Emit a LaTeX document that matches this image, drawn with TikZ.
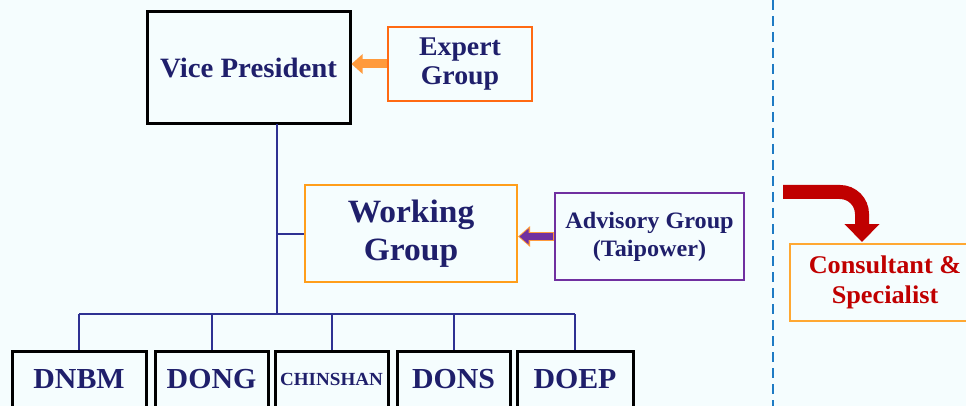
\documentclass[tikz,border=0pt]{standalone}
\usepackage{fontspec}
\setmainfont[FakeStretch=1.03]{Liberation Serif}
\usetikzlibrary{arrows.meta}
\definecolor{bgcyan}{HTML}{F5FDFE}
\definecolor{navytext}{HTML}{1F1F6B}
\definecolor{treeblue}{HTML}{2E3192}
\definecolor{expertorange}{HTML}{FF6A13}
\definecolor{workorange}{HTML}{FF9E1B}
\definecolor{arroworange}{HTML}{FF9A3C}
\definecolor{advpurple}{HTML}{7030A0}
\definecolor{darkred}{HTML}{C00000}
\definecolor{dashblue}{HTML}{1E7BC4}
\tikzset{
  orgbox/.style={draw,line width=2pt,inner sep=0pt,align=center,font=\bfseries,text=navytext},
  unitbox/.style={orgbox,draw=black,line width=3pt,minimum height=57,font=\bfseries\fontsize{29}{30}\selectfont},
  tree/.style={treeblue,line width=2pt}
}
\begin{document}
\begin{tikzpicture}[x=1pt,y=-1pt]
  \fill[bgcyan] (0,0) rectangle (966,406);
  \clip (0,0) rectangle (966,406);
  % top of the chart
  \node[orgbox,draw=black,line width=3pt,minimum width=203,minimum height=112,
        font=\bfseries\fontsize{28}{30}\selectfont] (vp) at (248.5,68) {Vice President};
  \node[orgbox,draw=expertorange,line width=2.5pt,minimum width=144,minimum height=74,
        font=\bfseries\fontsize{27}{29}\selectfont] (expert) at (460,64) {Expert\\Group};
  \node[orgbox,draw=workorange,minimum width=212,minimum height=97,
        font=\bfseries\fontsize{32.5}{38}\selectfont] (working) at (411,233.5) {Working\\Group};
  \node[orgbox,draw=advpurple,minimum width=189,minimum height=87,
        font=\bfseries\fontsize{23.5}{28}\selectfont] (advisory) at (649.5,236.5) {Advisory Group\\(Taipower)};
  \node[orgbox,draw=workorange!90!white,text=darkred,minimum width=200,minimum height=77,
        font=\bfseries\fontsize{25.5}{30}\selectfont] (consultant) at (890,282.5)
        {\hspace*{-10pt}Consultant \&\\\hspace*{-10pt}Specialist};
  % units
  \node[unitbox,minimum width=134] (dnbm) at (79,379.5) {DNBM};
  \node[unitbox,minimum width=113] (dong) at (211.5,379.5) {DONG};
  \node[unitbox,minimum width=113,font=\bfseries\fontsize{18.5}{20}\selectfont] (chinshan) at (331.5,379.5) {CHINSHAN};
  \node[unitbox,minimum width=113] (dons) at (453.5,379.5) {DONS};
  \node[unitbox,minimum width=116] (doep) at (575,379.5) {DOEP};
  % tree
  \coordinate (trunk) at (277,124);
  \coordinate (hub) at (277,314);
  \draw[tree] (trunk) -- (hub);
  \draw[tree] (trunk |- working.west) -- (working.west);
  \draw[tree] (dnbm.north |- hub) -- (doep.north |- hub);
  \foreach \u in {dnbm,dong,chinshan,dons,doep}
    \draw[tree] (\u.north |- hub) -- (\u.north);
  % arrows
  \draw[arroworange,line width=9pt,-{Triangle[length=11pt,width=19pt]}] (expert.west) -- (vp.east |- expert.west);
  \draw[arroworange,line width=9pt,-{Triangle[length=12pt,width=20pt]}] (advisory.west) -- (working.east |- advisory.west);
  \draw[advpurple,line width=6.5pt,-{Triangle[length=9pt,width=15pt]},shorten >=1.5pt] ([xshift=-1pt]advisory.west) -- (working.east |- advisory.west);
  % divider
  \draw[dashblue,line width=2pt,dash pattern=on 10pt off 6pt] (773,0) -- (773,406);
  \coordinate (rstart) at (783,192);
  \coordinate (rend) at (862,242);
  \draw[darkred,line width=14pt,rounded corners=22pt,-{Triangle[length=18pt,width=34pt]}]
    (rstart) -- (rend |- rstart) -- (rend);
\end{tikzpicture}
\end{document}
